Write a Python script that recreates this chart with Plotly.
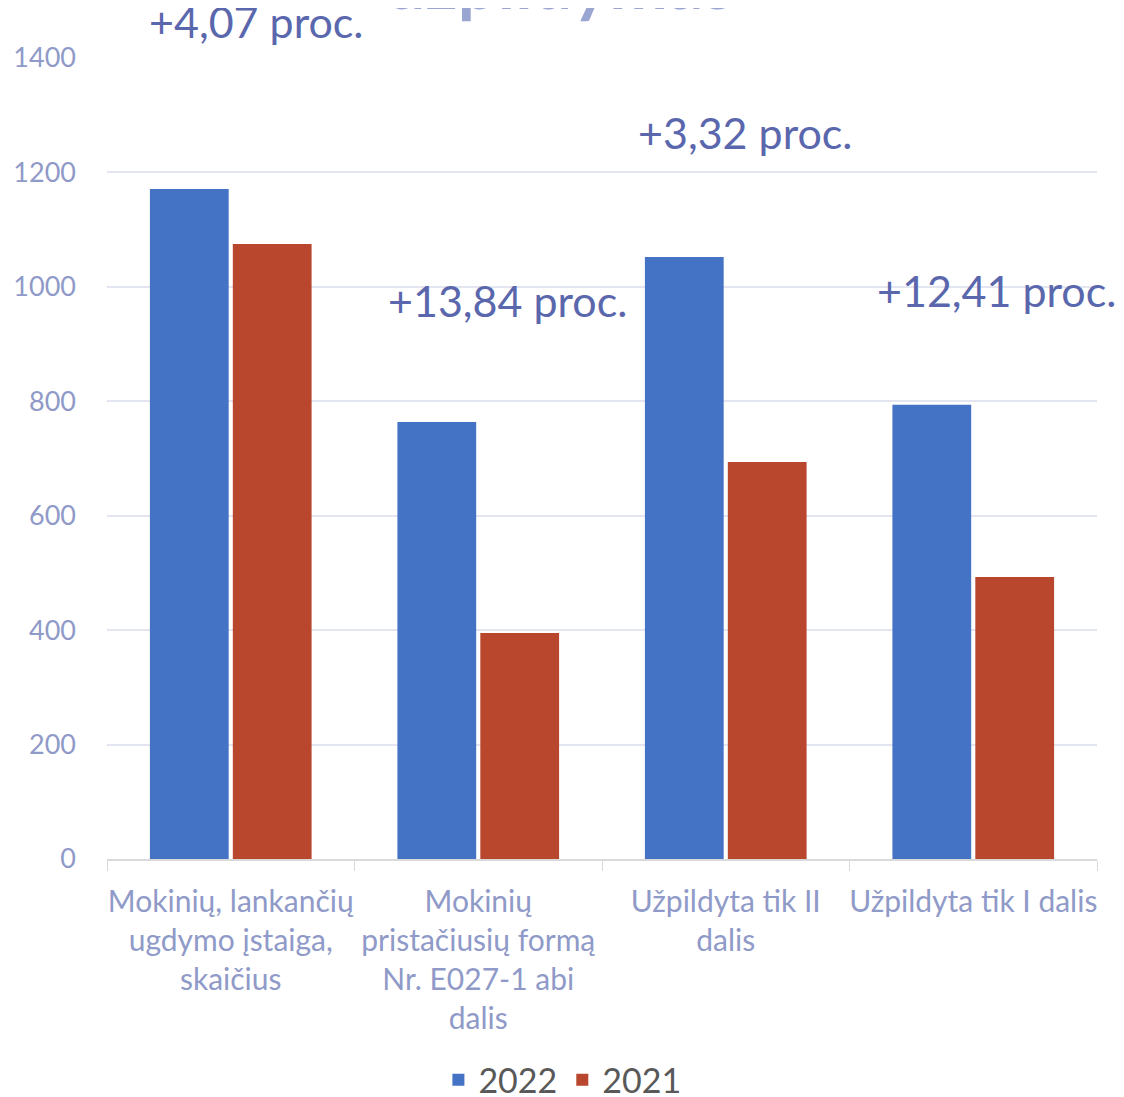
import plotly.graph_objects as go

categories = [
    "Mokinių, lankančių<br>ugdymo įstaiga,<br>skaičius",
    "Mokinių<br>pristačiusių formą<br>Nr. E027-1 abi<br>dalis",
    "Užpildyta tik II<br>dalis",
    "Užpildyta tik I dalis",
]
values_2022 = [1171, 764, 1052, 794]
values_2021 = [1075, 395, 694, 493]
change_labels = ["+4,07 proc.", "+13,84 proc.", "+3,32 proc.", "+12,41 proc."]
label_y = [1463, 977, 1269, 993]
label_xshift = [25, 29, 19, 23]
y_ticks = [0, 200, 400, 600, 800, 1000, 1200, 1400]
Y_MAX = 1400

FONT = "Lato"
fig = go.Figure()
fig.add_trace(go.Bar(name="2022", x=categories, y=values_2022,
                     marker=dict(color="#4472c4", line=dict(width=0))))
fig.add_trace(go.Bar(name="2021", x=categories, y=values_2021,
                     marker=dict(color="#b8472e", line=dict(width=0))))

for c, t, yv, xs in zip(categories, change_labels, label_y, label_xshift):
    fig.add_annotation(x=c, y=yv / Y_MAX, xref="x", yref="y domain", yanchor="middle",
                       text=t, showarrow=False,
                       xshift=xs, font=dict(family=FONT, size=43, color="#5a67ad"))

fig.add_annotation(x=0.458, y=1.04, xref="paper", yref="paper", yanchor="bottom",
                   text="<b>užpildymas</b>", showarrow=False,
                   font=dict(family=FONT, size=70, color="#9aa5d2"))

fig.update_layout(
    width=1124, height=1097,
    margin=dict(l=99, r=35, t=50, b=246, autoexpand=False),
    plot_bgcolor="white", paper_bgcolor="white",
    barmode="group", bargap=0.33, bargroupgap=0.05,
    font=dict(family=FONT),
    legend=dict(orientation="h", x=0.46, xanchor="center", y=-0.276, yanchor="middle",
                font=dict(family=FONT, size=34, color="#595959"), itemsizing="constant"),
    showlegend=True,
)
fig.update_xaxes(range=[-0.5, len(categories) - 0.5],
                 showline=True, linecolor="#d9d9d9", linewidth=1.5, automargin=False,
                 tickangle=0,
                 ticks="outside", tickson="boundaries", ticklen=10, tickcolor="#d9d9d9",
                 ticklabelstandoff=15,
                 tickfont=dict(family=FONT, size=30, color="#8f9ac8"))
fig.update_yaxes(range=[0, Y_MAX], tickvals=y_ticks, showgrid=True, gridcolor="#e3e6f0",
                 automargin=False,
                 gridwidth=1.5, zeroline=False, ticks="", ticklabelstandoff=30,
                 tickfont=dict(family=FONT, size=27, color="#8f9ac8"))

fig.write_html("out.html")
